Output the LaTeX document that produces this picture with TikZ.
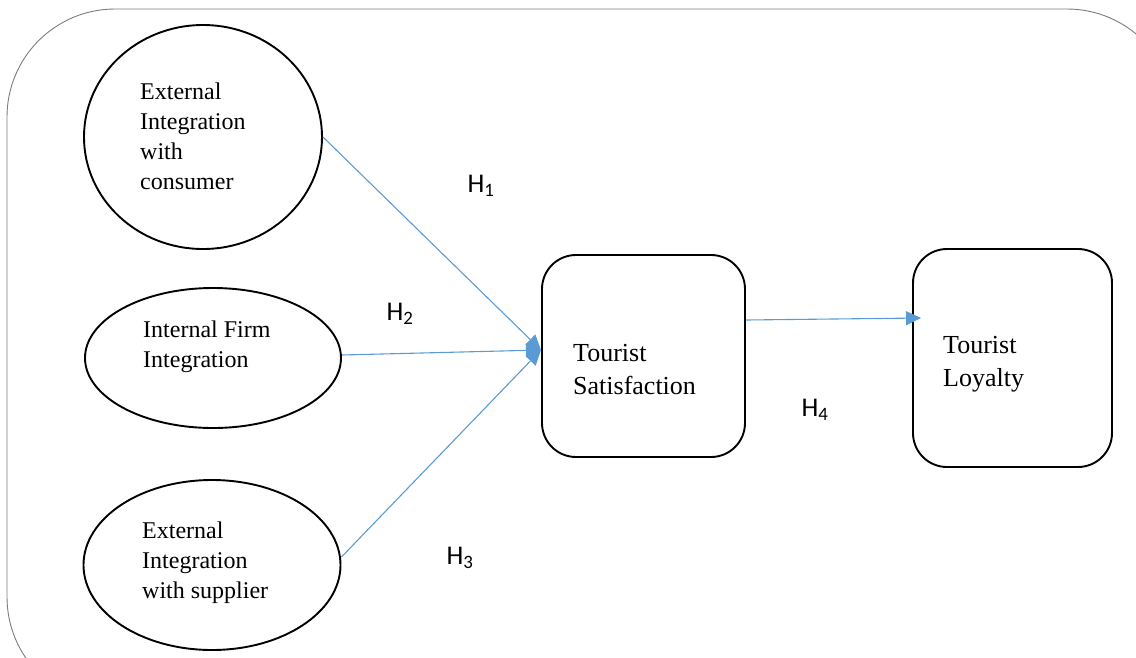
\documentclass[tikz,border=0pt]{standalone}
\usepackage{fontspec}
\setmainfont{Liberation Serif}
\newfontfamily\hfont{Carlito}
\usetikzlibrary{arrows.meta,shapes.geometric}
\definecolor{arrowblue}{RGB}{91,155,213}
\definecolor{framegray}{RGB}{125,125,125}
\tikzset{
  x=1pt,y=-1pt,
  construct/.style={draw=black,line width=1.9pt,ellipse,inner sep=0pt},
  boxnode/.style={draw=black,line width=1.9pt,rectangle,rounded corners=34pt,inner sep=0pt},
  etext/.style={align=left,inner sep=0pt,anchor=west,font=\fontsize{24}{30}\selectfont},
  btext/.style={align=left,inner sep=0pt,anchor=west,font=\fontsize{26}{33}\selectfont},
  hlabel/.style={inner sep=0pt,font=\hfont\fontsize{27}{30}\selectfont},
  path/.style={draw=arrowblue,line width=1.1pt},
  tip/.style={-{Triangle[length=15pt,width=14pt]}}
}
\begin{document}
\begin{tikzpicture}
\useasboundingbox (0,0) rectangle (1136,657);
\clip (0,0) rectangle (1136,657);
% outer frame
\draw[framegray,line width=0.9pt,rounded corners=108pt] (7,9) rectangle (1175,705);
% constructs
\node[construct,minimum width=238pt,minimum height=224pt] (e1) at (203,137) {};
\node[construct,minimum width=256pt,minimum height=140pt] (e2) at (213,358) {};
\node[construct,minimum width=257pt,minimum height=170pt] (e3) at (212,565) {};
\node[boxnode,minimum width=203pt,minimum height=202pt] (ts) at (643.5,356) {};
\node[boxnode,minimum width=199pt,minimum height=218pt] (tl) at (1012.5,358) {};
% texts
\node[etext] (t1) at (140,136) {External\\Integration\\with\\consumer};
\node[etext] (t2) at (143,347) {Internal Firm\\Integration};
\node[etext] (t3) at (142,562.5) {External\\Integration\\with supplier};
\node[btext] (t4) at (573,370) {Tourist\\Satisfaction};
\node[btext] (t5) at (943,364) {Tourist\\Loyalty};
% connectors
\coordinate (meet) at (541,350);
\draw[path,tip] (e1.east) -- (meet);
\draw[path,tip] ([yshift=3pt]e2.east) -- (meet);
\draw[path,tip] ([yshift=8pt]e3.east) -- (meet);
\draw[path,tip] ([yshift=36pt]ts.east) -- ([xshift=9pt,yshift=40pt]tl.west);
% labels
\node[hlabel] (h1) at (481,186) {H\textsubscript{1}};
\node[hlabel] (h2) at (400,314) {H\textsubscript{2}};
\node[hlabel] (h3) at (460,558) {H\textsubscript{3}};
\node[hlabel] (h4) at (815,410) {H\textsubscript{4}};
\end{tikzpicture}
\end{document}
